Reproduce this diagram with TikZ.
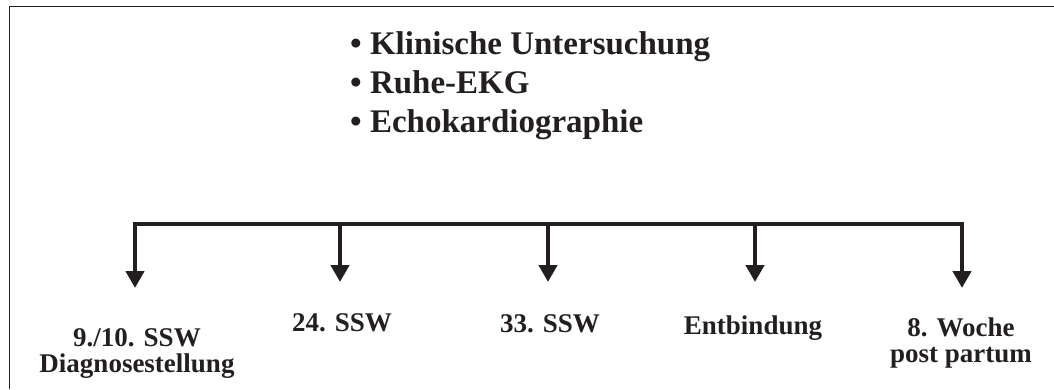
\documentclass[tikz,border=0pt]{standalone}
\usepackage{fontspec}
\setmainfont{Liberation Serif}
\usetikzlibrary{arrows.meta}
\definecolor{ink}{HTML}{231F20}
\tikzset{
  frameline/.style={draw=ink, line width=1.3pt},
  barline/.style={draw=ink, line width=4.3pt},
  downarrow/.style={draw=ink, line width=4.3pt, -{Triangle[length=17pt,width=18pt]}},
  toplist/.style={anchor=base west, align=left, text=ink, inner sep=0pt,
    font=\fontsize{33pt}{38.8pt}\selectfont\bfseries},
  stage/.style={anchor=base, align=center, text=ink, inner sep=0pt,
    font=\fontsize{27pt}{26pt}\selectfont\bfseries}
}
\begin{document}
\begin{tikzpicture}[x=1pt,y=-1pt]
\useasboundingbox (0,0) rectangle (1054,389);
% frame (right and bottom edges lie outside the picture)
\draw[frameline] (9.5,389) -- (9.5,6.5) -- (1054,6.5);
% top list (anchor = baseline of the last line)
\node[toplist] (list) at (350,132) {\textbullet\ Klinische Untersuchung\\\textbullet\ Ruhe-EKG\\\textbullet\ Echokardiographie};
% bar coordinates
\coordinate (b1) at (135,224);
\coordinate (b2) at (340,224);
\coordinate (b3) at (548,224);
\coordinate (b4) at (755,224);
\coordinate (b5) at (962,224);
\coordinate (t1) at (135,288);
\coordinate (t2) at (340,282);
\coordinate (t3) at (548,282);
\coordinate (t4) at (755,282);
\coordinate (t5) at (962,288);
\draw[barline, line cap=butt] ([xshift=-2.15pt]b1) -- ([xshift=2.15pt]b5);
\draw[downarrow] ([yshift=-2.15pt]b1) -- (t1);
\draw[downarrow] (b2) -- (t2);
\draw[downarrow] (b3) -- (t3);
\draw[downarrow] (b4) -- (t4);
\draw[downarrow] ([yshift=-2.15pt]b5) -- (t5);
% labels (anchor = baseline of the last line)
\node[stage] (l1) at (137,372) {9./10. SSW\\Diagnosestellung};
\node[stage] (l2) at (342,331) {24. SSW};
\node[stage] (l3) at (550,332) {33. SSW};
\node[stage] (l4) at (753,334) {Entbindung};
\node[stage] (l5) at (961,362) {8. Woche\\post partum};
\end{tikzpicture}
\end{document}
